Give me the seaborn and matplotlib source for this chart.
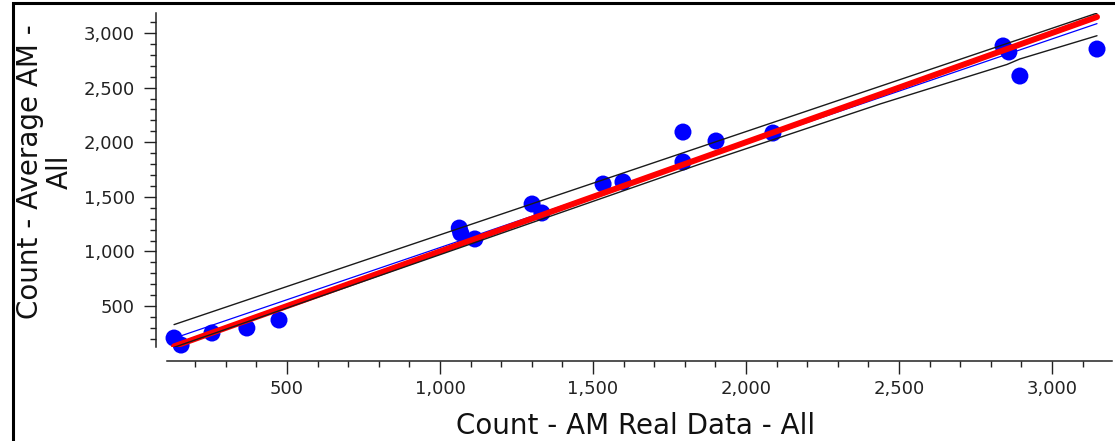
import numpy as np
import pandas as pd
import matplotlib
matplotlib.use("Agg")
import matplotlib.pyplot as plt
from matplotlib.ticker import MultipleLocator, FuncFormatter
from matplotlib.patches import Rectangle
import seaborn as sns

# ---- data ----
x_real = [131, 154, 255, 369, 474, 1063, 1068, 1114, 1301, 1333, 1533, 1598,
          1794, 1794, 1902, 2088, 2840, 2859, 2895, 3147]
y_avg = [207, 143, 253, 299, 372, 1214, 1168, 1114, 1434, 1352, 1617, 1636,
         2093, 1819, 2011, 2084, 2881, 2826, 2606, 2853]

# identity reference line (y = x) over the data range
ref_x = [131, 3147]
ref_y = [131, 3147]

# upper / lower band lines
upper_x = [131, 3147]
upper_y = [330, 3182]
lower_x = [131, 1850, 2438, 2853, 2895, 3147]
lower_y = [122, 1800, 2350, 2712, 2762, 2975]

x_ticks = [500, 1000, 1500, 2000, 2500, 3000]
y_ticks = [500, 1000, 1500, 2000, 2500, 3000]

xlabel = "Count - AM Real Data - All"
ylabel = "Count - Average AM -\nAll"

df = pd.DataFrame({"x": x_real, "y": y_avg})

sns.set_theme(style="ticks")
plt.rcParams["font.family"] = ["DejaVu Sans"]

W, H = 1115, 441
fig = plt.figure(figsize=(W / 100, H / 100), dpi=100)
fig.patch.set_facecolor("white")
ax = fig.add_axes([167 / W, 1 - 347 / H, (1112 - 167) / W, (347 - 13) / H])
ax.set_facecolor("white")

sns.scatterplot(data=df, x="x", y="y", ax=ax, color="#0000FF", s=150,
                edgecolor="none", linewidth=0, zorder=2, legend=False,
                clip_on=False)
sns.regplot(data=df, x="x", y="y", ax=ax, scatter=False, ci=None, truncate=True,
            line_kws={"color": "#0000FF", "lw": 0.9, "zorder": 3})
sns.lineplot(x=ref_x, y=ref_y, ax=ax, color="#FF0000", lw=4.3, zorder=4,
             estimator=None, sort=False)
sns.lineplot(x=upper_x, y=upper_y, ax=ax, color="#1a1a1a", lw=1.0, zorder=5,
             estimator=None, sort=False)
sns.lineplot(x=lower_x, y=lower_y, ax=ax, color="#1a1a1a", lw=1.0, zorder=5,
             estimator=None, sort=False)

ax.set_xlim(108, 3196)
ax.set_ylim(125, 3183)

ax.xaxis.set_major_locator(plt.FixedLocator(x_ticks))
ax.yaxis.set_major_locator(plt.FixedLocator(y_ticks))
ax.xaxis.set_minor_locator(MultipleLocator(100))
ax.yaxis.set_minor_locator(MultipleLocator(100))
fmt = FuncFormatter(lambda v, p: f"{v:,.0f}")
ax.xaxis.set_major_formatter(fmt)
ax.yaxis.set_major_formatter(fmt)

for s in ["top", "right"]:
    ax.spines[s].set_visible(False)
ax.spines["left"].set_position(("outward", 8))
ax.spines["bottom"].set_position(("outward", 10))
for s in ["left", "bottom"]:
    ax.spines[s].set_color("#222222")
    ax.spines[s].set_linewidth(1.1)

ax.tick_params(axis="both", which="major", direction="out", length=9, width=1.0,
               color="#222222", labelsize=13, labelcolor="#222222")
ax.tick_params(axis="both", which="minor", direction="out", length=4.5, width=1.0,
               color="#222222")
ax.tick_params(axis="y", which="major", pad=6)
ax.tick_params(axis="x", which="major", pad=5)

ax.set_xlabel("")
ax.set_ylabel("")
fig.text(636 / W, 1 - 426 / H, xlabel, ha="center", va="center", fontsize=20,
         color="#111111")
fig.text(45 / W, 1 - 172 / H, ylabel, ha="center", va="center", rotation=90,
         fontsize=20, color="#111111", multialignment="center", linespacing=1.05)

# outer frame (cropped at right/bottom)
fig.add_artist(Rectangle((13 / W, -0.1), 1.2, 1.1 - 3.5 / H,
                         transform=fig.transFigure, fill=False,
                         edgecolor="black", lw=2.2))

fig.savefig("out.png", dpi=100, facecolor="white")
